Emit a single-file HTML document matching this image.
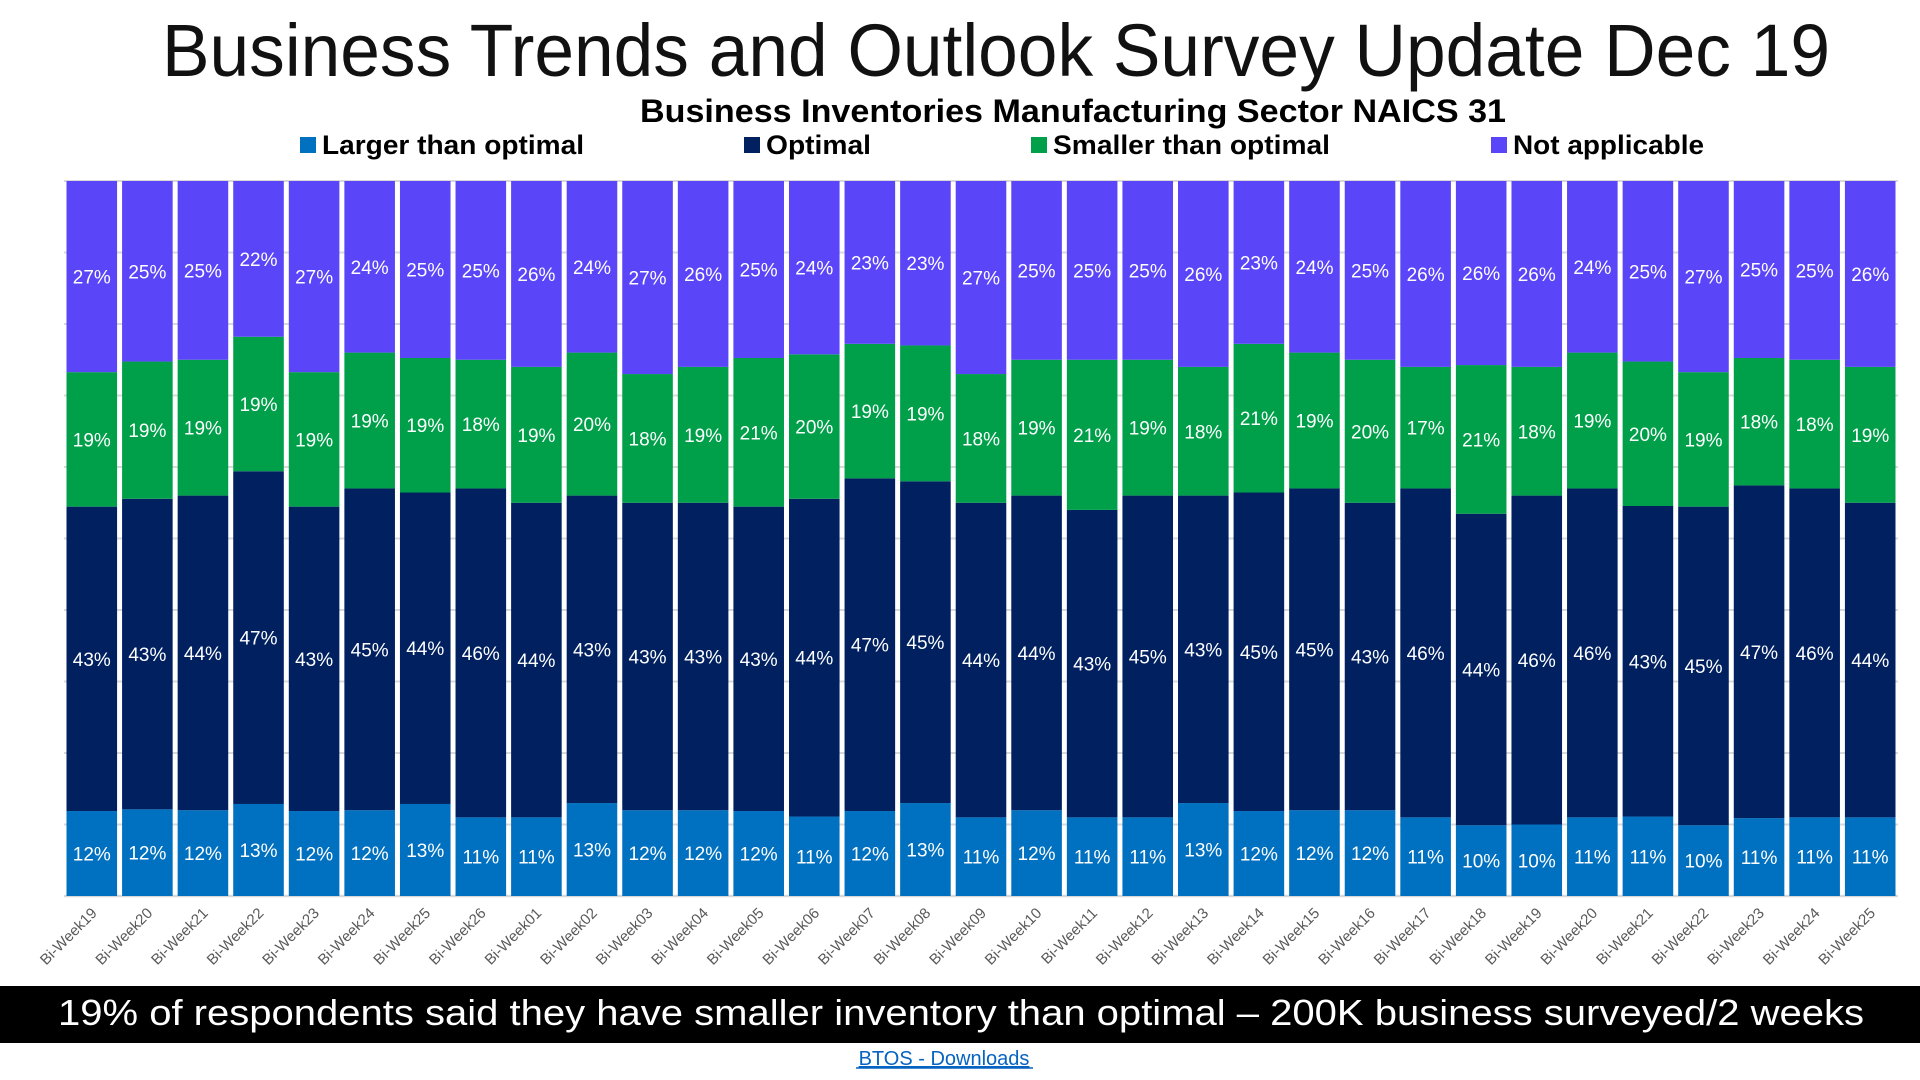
<!DOCTYPE html>
<html><head><meta charset="utf-8"><style>
html,body{margin:0;padding:0;background:#fff;}
svg{display:block;}
</style></head><body>
<svg id="chart" width="1920" height="1080" viewBox="0 0 1920 1080" xmlns="http://www.w3.org/2000/svg">
<text x="996" y="76" text-anchor="middle" font-family="Liberation Sans, sans-serif" font-size="74" fill="#111" textLength="1668" lengthAdjust="spacingAndGlyphs">Business Trends and Outlook Survey  Update Dec 19</text>
<text x="1073" y="122" text-anchor="middle" font-family="Liberation Sans, sans-serif" font-weight="bold" font-size="32" fill="#000" textLength="866" lengthAdjust="spacingAndGlyphs">Business Inventories Manufacturing Sector NAICS 31</text>
<g id="legend"></g>
<g id="grid"></g>
<g id="bars"></g>
<g id="xlabels"></g>
<rect x="0" y="986" width="1920" height="57" fill="#000"/>
<text x="961" y="1025" text-anchor="middle" font-family="Liberation Sans, sans-serif" font-size="36" fill="#fff" textLength="1806" lengthAdjust="spacingAndGlyphs">19% of respondents said they have smaller inventory than optimal – 200K business surveyed/2 weeks</text>
<text x="944" y="1065" text-anchor="middle" font-family="Liberation Sans, sans-serif" font-size="20" fill="#0563C1" text-decoration="underline">BTOS - Downloads</text>
<line x1="856" y1="1068" x2="1033" y2="1068" stroke="#0563C1" stroke-width="1.5"/>
</svg>
<script>
const categories=["Bi-Week19","Bi-Week20","Bi-Week21","Bi-Week22","Bi-Week23","Bi-Week24","Bi-Week25","Bi-Week26","Bi-Week01","Bi-Week02","Bi-Week03","Bi-Week04","Bi-Week05","Bi-Week06","Bi-Week07","Bi-Week08","Bi-Week09","Bi-Week10","Bi-Week11","Bi-Week12","Bi-Week13","Bi-Week14","Bi-Week15","Bi-Week16","Bi-Week17","Bi-Week18","Bi-Week19","Bi-Week20","Bi-Week21","Bi-Week22","Bi-Week23","Bi-Week24","Bi-Week25"];
const larger=[12,12,12,13,12,12,13,11,11,13,12,12,12,11,12,13,11,12,11,11,13,12,12,12,11,10,10,11,11,10,11,11,11];
const optimal=[43,43,44,47,43,45,44,46,44,43,43,43,43,44,47,45,44,44,43,45,43,45,45,43,46,44,46,46,43,45,47,46,44];
const smaller=[19,19,19,19,19,19,19,18,19,20,18,19,21,20,19,19,18,19,21,19,18,21,19,20,17,21,18,19,20,19,18,18,19];
const notApplicable=[27,25,25,22,27,24,25,25,26,24,27,26,25,24,23,23,27,25,25,25,26,23,24,25,26,26,26,24,25,27,25,25,26];
const seriesNames=["Larger than optimal","Optimal","Smaller than optimal","Not applicable"];
const gridTicks=[0,10,20,30,40,50,60,70,80,90,100];

const NS="http://www.w3.org/2000/svg";
const colors=["#0070C0","#002060","#00A04A","#5A45F8"];
const plotL=64,plotR=1898,plotT=181,plotB=896;
const pitch=(plotR-plotL)/categories.length, barW=pitch-5;
function xPos(i){return plotL+i*pitch+2.5;}
function yPos(p){return plotB-(plotB-plotT)*p/100;}
function mk(tag,attrs,parent){const e=document.createElementNS(NS,tag);for(const k in attrs)e.setAttribute(k,attrs[k]);parent.appendChild(e);return e;}

const grid=document.getElementById('grid');
gridTicks.forEach(t=>{
  const l=mk('line',{x1:plotL,x2:plotR,y1:yPos(t),y2:yPos(t),stroke:'#d9d9d9','stroke-width':t===0?2.5:2},grid);
  
  
});

const series=[larger,optimal,smaller,notApplicable];
const bars=document.getElementById('bars');
categories.forEach((c,i)=>{
  const tot=series.reduce((s,a)=>s+a[i],0);
  let cum=0;
  series.forEach((arr,si)=>{
    const v=arr[i]/tot*100;
    const y0=yPos(cum), y1=yPos(cum+v);
    const r=mk('rect',{x:xPos(i),y:y1,width:barW,height:y0-y1,fill:colors[si]},bars);
    
    
    const t=mk('text',{x:xPos(i)+barW/2,y:(y0+y1)/2+7,'text-anchor':'middle','font-family':'Liberation Sans, sans-serif','font-size':19,fill:'#fff'},bars);
    t.textContent=arr[i]+'%';
    
    
    cum+=v;
  });
  const cx=xPos(i)+barW/2+6, cy=914;
  const xl=mk('text',{x:cx,y:cy,'text-anchor':'end','font-family':'Liberation Sans, sans-serif','font-size':15,fill:'#595959',transform:`rotate(-45 ${cx} ${cy})`},document.getElementById('xlabels'));
  xl.textContent=c;
  
  
});

const legend=document.getElementById('legend');
const legX=[300,744,1031,1491], legW=[262,105,277,191];
seriesNames.forEach((n,i)=>{
  const g=mk('g',{},legend);
  
  
  mk('rect',{x:legX[i],y:137,width:16,height:16,fill:colors[i]},g);
  const t=mk('text',{x:legX[i]+22,y:154,'font-family':'Liberation Sans, sans-serif','font-weight':'bold','font-size':27,fill:'#000',textLength:legW[i],lengthAdjust:'spacingAndGlyphs'},g);
  t.textContent=n;
});
</script>
</body></html>
